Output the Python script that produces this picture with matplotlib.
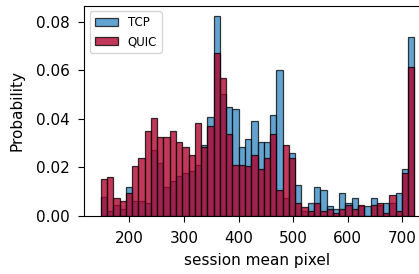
import numpy as np
import matplotlib
matplotlib.use("Agg")
import matplotlib.pyplot as plt

# ==================== DADOS ====================
BIN_START = 147.3
BIN_END = 722.3
N_BINS = 50

tcp_prob = [
    0.0077, 0.0022, 0.0044, 0.0030, 0.0118, 0.0063, 0.0063, 0.0052, 0.0272, 0.0217,
    0.0118, 0.0143, 0.0165, 0.0176, 0.0187, 0.0209, 0.0294, 0.0407, 0.0825, 0.0503,
    0.0448, 0.0440, 0.0283, 0.0316, 0.0393, 0.0305, 0.0305, 0.0415, 0.0602, 0.0074,
    0.0261, 0.0129, 0.0019, 0.0052, 0.0121, 0.0107, 0.0041, 0.0030, 0.0096, 0.0052,
    0.0074, 0.0041, 0.0041, 0.0074, 0.0044, 0.0052, 0.0055, 0.0096, 0.0195, 0.0736,
]
quic_prob = [
    0.0151, 0.0162, 0.0074, 0.0063, 0.0096, 0.0206, 0.0239, 0.0349, 0.0404, 0.0327,
    0.0327, 0.0349, 0.0305, 0.0283, 0.0250, 0.0382, 0.0283, 0.0371, 0.0671, 0.0569,
    0.0338, 0.0209, 0.0209, 0.0208, 0.0250, 0.0195, 0.0239, 0.0338, 0.0107, 0.0294,
    0.0239, 0.0052, 0.0038, 0.0019, 0.0052, 0.0019, 0.0030, 0.0011, 0.0030, 0.0044,
    0.0030, 0.0044, 0.0000, 0.0044, 0.0055, 0.0011, 0.0085, 0.0021, 0.0176, 0.0613,
]
# ===============================================

edges = np.linspace(BIN_START, BIN_END, N_BINS + 1)
widths = np.diff(edges)

fig = plt.figure(figsize=(4.19, 2.74), dpi=100)
ax = fig.add_axes([0.2005, 0.2117, 0.826, 0.768])

ax.bar(edges[:-1], tcp_prob, width=widths, align="edge",
       color="#2e86c0", alpha=0.75, edgecolor="black", linewidth=0.9, label="TCP")
ax.bar(edges[:-1], quic_prob, width=widths, align="edge",
       color="#b0002c", alpha=0.78, edgecolor="black", linewidth=0.9, label="QUIC")

ax.set_xlim(116.7, 751)
ax.set_ylim(0, 0.0867)
ax.set_yticks([0.0, 0.02, 0.04, 0.06, 0.08])
ax.yaxis.set_major_formatter(matplotlib.ticker.FormatStrFormatter("%.2f"))
ax.tick_params(labelsize=11, length=4.5, pad=6)
ax.set_xlabel("session mean pixel", fontsize=11, labelpad=5)
ax.set_ylabel("Probability", fontsize=11, labelpad=8)
ax.legend(loc="upper left", fontsize=8.5)

fig.savefig("out.png", dpi=100)
